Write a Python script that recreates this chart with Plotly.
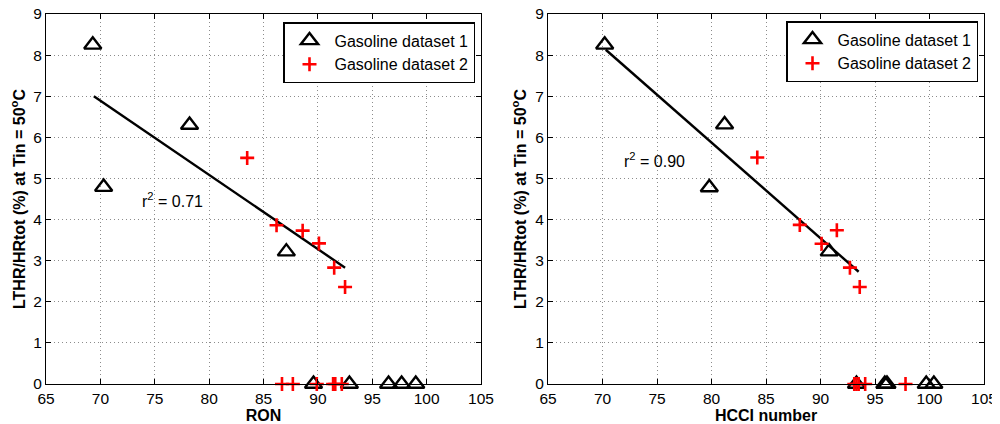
import plotly.graph_objects as go
from plotly.subplots import make_subplots

# Left panel: RON
ron_ds1_x = [69.3, 78.2, 70.3, 87.1, 89.6, 92.9, 96.5, 97.7, 99.0]
ron_ds1_y = [8.25, 6.30, 4.79, 3.22, 0, 0, 0, 0, 0]
ron_ds2_x = [83.5, 86.2, 88.6, 90.1, 91.5, 92.5, 86.7, 87.7, 89.9, 91.4, 91.6, 92.2]
ron_ds2_y = [5.50, 3.86, 3.73, 3.42, 2.83, 2.36, 0, 0, 0, 0, 0, 0]
ron_fit_x = [69.4, 92.5]
ron_fit_y = [7.00, 2.83]
ron_r2 = "r<sup>2</sup> = 0.71"

# Right panel: HCCI number
hcci_ds1_x = [70.2, 81.2, 79.8, 90.8, 93.3, 95.9, 96.1, 99.7, 100.4]
hcci_ds1_y = [8.25, 6.31, 4.78, 3.22, 0, 0, 0, 0, 0]
hcci_ds2_x = [84.2, 88.1, 91.5, 90.1, 92.7, 93.6, 93.1, 93.3, 93.5, 94.1, 97.8]
hcci_ds2_y = [5.51, 3.87, 3.74, 3.41, 2.83, 2.36, 0, 0, 0, 0, 0]
hcci_fit_x = [70.3, 93.5]
hcci_fit_y = [8.13, 2.73]
hcci_r2 = "r<sup>2</sup> = 0.90"

x_ticks = [65, 70, 75, 80, 85, 90, 95, 100, 105]
y_ticks = [0, 1, 2, 3, 4, 5, 6, 7, 8, 9]

FONT = "Liberation Sans, Arial, Helvetica, sans-serif"
W, H = 992, 416  # page body adds an 8px margin

fig = make_subplots(rows=1, cols=2)

tri = dict(symbol="triangle-up-open", size=15, color="black", line=dict(color="black", width=2.4))
crs = dict(symbol="cross-thin-open", size=10, color="red", line=dict(color="red", width=2.6))

for col, (dx1, dy1, dx2, dy2, fx, fy, leg) in enumerate([
    (ron_ds1_x, ron_ds1_y, ron_ds2_x, ron_ds2_y, ron_fit_x, ron_fit_y, "legend"),
    (hcci_ds1_x, hcci_ds1_y, hcci_ds2_x, hcci_ds2_y, hcci_fit_x, hcci_fit_y, "legend2"),
], start=1):
    fig.add_trace(go.Scatter(x=fx, y=fy, mode="lines", line=dict(color="black", width=2.4),
                             showlegend=False, cliponaxis=False), row=1, col=col)
    fig.add_trace(go.Scatter(x=dx1, y=dy1, mode="markers", marker=tri, name="Gasoline dataset 1",
                             legend=leg, cliponaxis=False), row=1, col=col)
    fig.add_trace(go.Scatter(x=dx2, y=dy2, mode="markers", marker=crs, name="Gasoline dataset 2",
                             legend=leg, cliponaxis=False), row=1, col=col)

axis_common = dict(showline=True, linecolor="black", linewidth=1.2, mirror="allticks",
                   ticks="inside", ticklen=5, tickcolor="black", showgrid=True,
                   gridcolor="#8c8c8c", griddash="1px,3px", gridwidth=1, zeroline=False,
                   automargin=False, ticklabeloverflow="allow",
                   tickfont=dict(family=FONT, size=15.5, color="black"))

fig.update_xaxes(**axis_common, range=[65, 105], tickvals=x_ticks)
fig.update_yaxes(**axis_common, range=[0, 9], tickvals=y_ticks)

def px_x(p):
    return (p - 8) / W

def px_y(p):
    return 1 - (p - 8) / H

ydom = [px_y(384), px_y(14)]
ytitle = "<b>LTHR/HRtot (%) at Tin = 50<sup>o</sup>C</b>"
legend_common = dict(xanchor="right", yanchor="top", bordercolor="black", borderwidth=1.5,
                     bgcolor="white", font=dict(family=FONT, size=16, color="black"),
                     tracegroupgap=0, itemwidth=40)
fig.update_layout(
    template="none",
    xaxis=dict(domain=[px_x(46), px_x(481)],
               title=dict(text="<b>RON</b>", font=dict(family=FONT, size=16, color="black"), standoff=0)),
    xaxis2=dict(domain=[px_x(548), px_x(984)],
                title=dict(text="<b>HCCI number</b>", font=dict(family=FONT, size=16, color="black"), standoff=0)),
    yaxis=dict(domain=ydom,
               title=dict(text=ytitle, font=dict(family=FONT, size=16, color="black"), standoff=4)),
    yaxis2=dict(domain=ydom,
                title=dict(text=ytitle, font=dict(family=FONT, size=16, color="black"), standoff=4)),
    width=W, height=H,
    margin=dict(l=0, r=0, t=0, b=0),
    paper_bgcolor="white", plot_bgcolor="white",
    font=dict(family=FONT, size=15, color="black"),
    legend=dict(x=px_x(475), y=px_y(22), **legend_common),
    legend2=dict(x=px_x(978), y=px_y(21), **legend_common),
    annotations=[
        dict(x=76.6, y=4.48, xref="x", yref="y", text=ron_r2, showarrow=False,
             font=dict(family=FONT, size=16, color="black")),
        dict(x=74.8, y=5.45, xref="x2", yref="y2", text=hcci_r2, showarrow=False,
             font=dict(family=FONT, size=16, color="black")),
    ],
)

fig.write_html("out.html")
